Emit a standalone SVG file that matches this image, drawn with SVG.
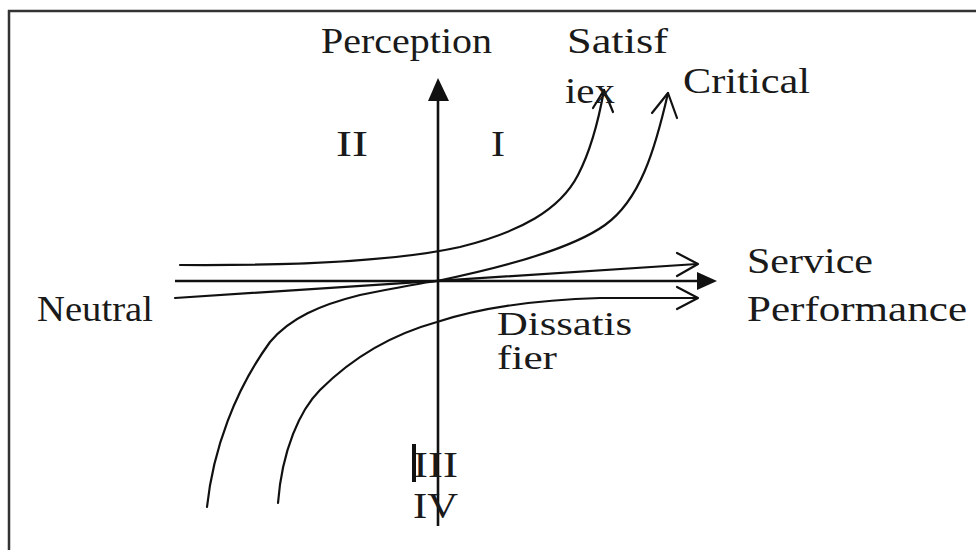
<svg xmlns="http://www.w3.org/2000/svg" width="976" height="550" viewBox="0 0 976 550">
<style>
text{font-family:'Liberation Serif','DejaVu Serif','Times New Roman',serif;font-size:36px;fill:#1a1a1a}
.c{fill:none;stroke:#111;stroke-width:2.2;stroke-linecap:round;stroke-linejoin:round}
.ax{fill:none;stroke:#111;stroke-width:2.6}
</style>
<rect width="976" height="550" fill="#fff"/>
<g id="frame">
<line x1="8" y1="11" x2="976" y2="11" stroke="#333" stroke-width="2.5"/>
<line x1="9" y1="10" x2="9" y2="550" stroke="#333" stroke-width="2.5"/>
</g>
<g id="connectors">
<line class="ax" x1="438" y1="98" x2="438" y2="526"/>
<polygon points="438,78 428,101 449,101" fill="#111"/>
<line class="ax" x1="175" y1="281" x2="700" y2="281"/>
<polygon points="717,281 697,272 697,290" fill="#111"/>
<path class="c" d="M180,265 C320,266 410,258 460,247 C520,232 560,210 578,175 C592,148 599,118 604,90"/>
<polyline class="c" points="593,108 604,90 613,112"/>
<path class="c" d="M207,507 C213,450 235,390 270,342 C290,318 320,305 360,295 C400,287 420,283 437,281 C500,268 570,250 605,225 C640,200 655,150 668,93"/>
<polyline class="c" points="652,113 668,93 677,118"/>
<line class="c" x1="175" y1="298" x2="697" y2="264"/>
<polyline class="c" points="677,253 698,264 677,276"/>
<path class="c" d="M278,503 C282,450 300,410 320,390 C350,360 390,335 437,322 C480,308 530,300 600,298 L697,298"/>
<polyline class="c" points="677,287 698,298 677,309"/>
</g>
<g id="labels">
<text x="321" y="53" textLength="171" lengthAdjust="spacingAndGlyphs">Perception</text>
<text x="567" y="53" textLength="101" lengthAdjust="spacingAndGlyphs">Satisf</text>
<text x="565" y="103" textLength="50" lengthAdjust="spacingAndGlyphs">iex</text>
<text x="683" y="93" textLength="127" lengthAdjust="spacingAndGlyphs">Critical</text>
<text x="336" y="156" textLength="32" lengthAdjust="spacingAndGlyphs">II</text>
<text x="491" y="156" textLength="14" lengthAdjust="spacingAndGlyphs">I</text>
<text x="747" y="273" textLength="126" lengthAdjust="spacingAndGlyphs">Service</text>
<text x="747" y="321" textLength="220" lengthAdjust="spacingAndGlyphs">Performance</text>
<text x="37" y="321" textLength="116" lengthAdjust="spacingAndGlyphs">Neutral</text>
<text x="497" y="335" textLength="135" lengthAdjust="spacingAndGlyphs" style="font-size:33px">Dissatis</text>
<text x="497" y="369" textLength="60" lengthAdjust="spacingAndGlyphs" style="font-size:33px">fier</text>
<text x="413" y="477" textLength="45" lengthAdjust="spacingAndGlyphs">III</text>
<rect x="412" y="444" width="4" height="38" fill="#111"/>
<text x="413" y="518" textLength="45" lengthAdjust="spacingAndGlyphs">IV</text>
</g>
</svg>
